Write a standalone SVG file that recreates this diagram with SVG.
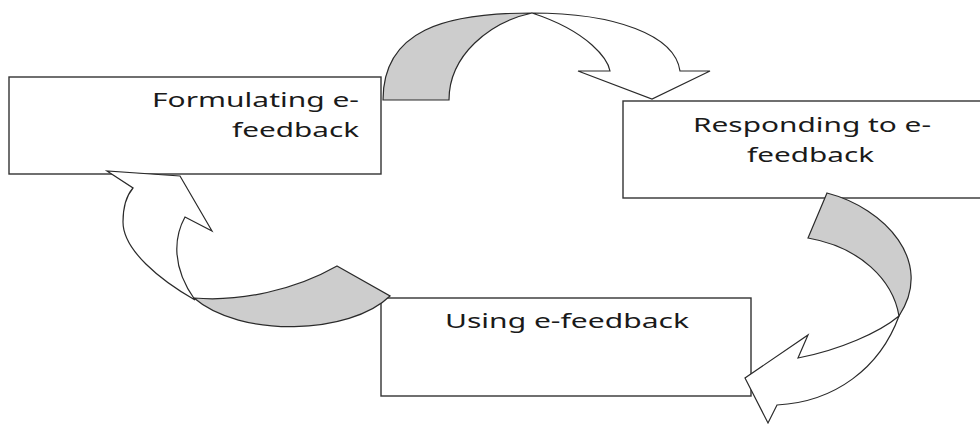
<svg xmlns="http://www.w3.org/2000/svg" width="980" height="425" viewBox="0 0 980 425">
<style>
.box{fill:#ffffff;stroke:#333333;stroke-width:1.4}
.lbl{font-family:"Noto Sans","Open Sans","Liberation Sans",sans-serif;font-size:20px;fill:#1a1a1a}
.back{fill:#cdcdcd;stroke:#2a2a2a;stroke-width:1.2;stroke-linejoin:miter}
.front{fill:#ffffff;stroke:#2a2a2a;stroke-width:1.2;stroke-linejoin:miter}
</style>
<rect width="980" height="425" fill="#ffffff"/>
<g id="node-formulating">
<rect class="box" x="9" y="77" width="372" height="97"/>
<text class="lbl" x="152" y="107" textLength="207" lengthAdjust="spacingAndGlyphs">Formulating e-</text>
<text class="lbl" x="232" y="137" textLength="127" lengthAdjust="spacingAndGlyphs">feedback</text>
</g>
<g id="node-responding">
<rect class="box" x="623" y="101" width="380" height="97"/>
<text class="lbl" x="693" y="132" textLength="238" lengthAdjust="spacingAndGlyphs">Responding to e-</text>
<text class="lbl" x="747" y="162" textLength="127" lengthAdjust="spacingAndGlyphs">feedback</text>
</g>
<g id="node-using">
<rect class="box" x="381" y="298" width="370" height="98"/>
<text class="lbl" x="445" y="328" textLength="244" lengthAdjust="spacingAndGlyphs">Using e-feedback</text>
</g>
<g id="connectors">
<g id="arrow-formulating-to-responding">
<path class="back" d="M383,100 C383,30 445,13 532,13 C490,22 449,55 449,100 Z"/>
<path class="front" d="M532,13 C615,13 675,35 680,71 L710,71 L652,99 L578,71 L610,71 C608,60 590,32 532,13 Z"/>
</g>
<g id="arrow-responding-to-using">
<path class="back" d="M827,193 C885,208 935,262 899,316 C893,280 860,247 808,238 Z"/>
<path class="front" d="M899,316 C880,332 840,350 798,358 L808,335 L745,378 L768,423 L777,405 C835,402 880,368 899,316 Z"/>
</g>
<g id="arrow-using-to-formulating">
<path class="back" d="M337,266 L390,296 C350,335 240,338 194,298 C240,302 295,290 337,266 Z"/>
<path class="front" d="M195,300 C160,280 123,250 123,222 C123,205 127,195 133,188 L107,171 L180,176 L212,231 L185,217 C175,235 170,265 195,300 Z"/>
</g>
</g>
</svg>
